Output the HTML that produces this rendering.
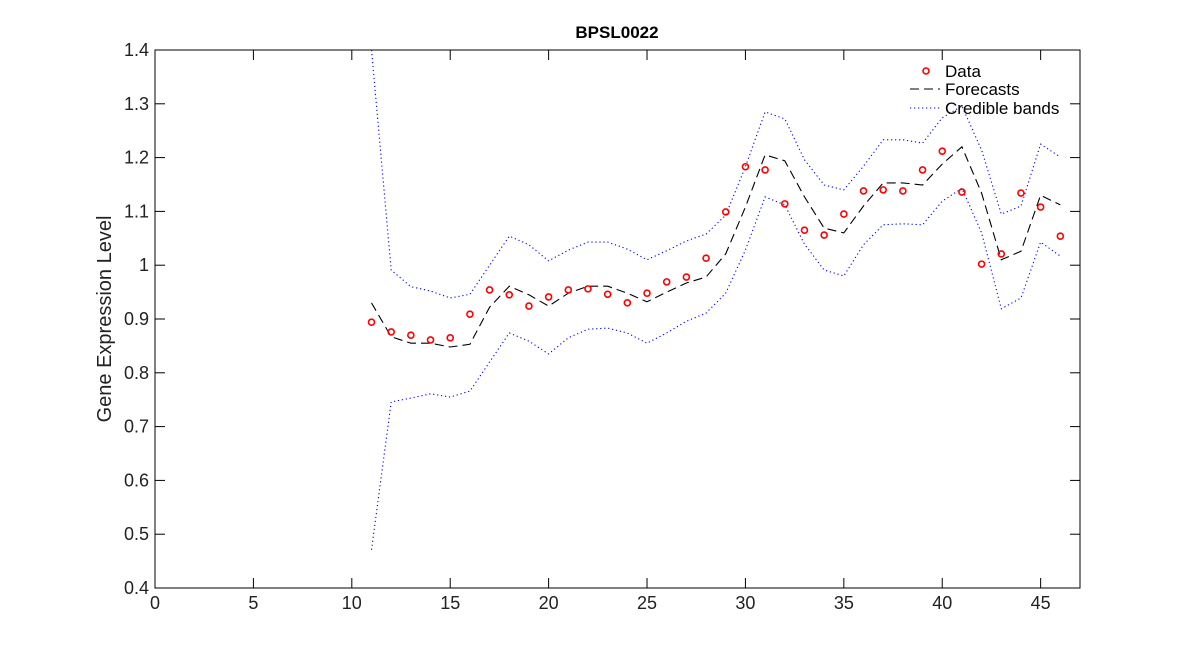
<!DOCTYPE html>
<html><head><meta charset="utf-8"><style>body{margin:0;background:#fff}svg{display:block;font-family:"Liberation Sans",sans-serif}</style></head>
<body>
<svg id="chart" width="1193" height="661">
<rect x="0" y="0" width="1193" height="661" fill="#fff"/>
<text x="617" y="38" text-anchor="middle" font-size="17" font-weight="bold">BPSL0022</text>
<text transform="translate(111,319) rotate(-90)" text-anchor="middle" font-size="20" fill="#222">Gene Expression Level</text>
<g id="axes"></g>
<g id="series"></g>
<g>
<circle cx="926" cy="71" r="3" fill="none" stroke="red" stroke-width="1.6"/>
<text x="945" y="77" font-size="17">Data</text>
<line x1="910" y1="89" x2="940" y2="89" stroke="#000" stroke-dasharray="9,5"/>
<text x="945" y="95" font-size="17">Forecasts</text>
<line x1="910" y1="108" x2="940" y2="108" stroke="blue" stroke-dasharray="1.2,2.8"/>
<text x="945" y="114" font-size="17">Credible bands</text>
</g>
</svg>
<script>
const xs = [11,12,13,14,15,16,17,18,19,20,21,22,23,24,25,26,27,28,29,30,31,32,33,34,35,36,37,38,39,40,41,42,43,44,45,46];
const dataVals = [0.894,0.876,0.870,0.861,0.865,0.909,0.954,0.945,0.924,0.941,0.954,0.956,0.946,0.930,0.948,0.969,0.978,1.013,1.099,1.183,1.177,1.114,1.065,1.056,1.095,1.138,1.140,1.138,1.177,1.212,1.136,1.002,1.021,1.134,1.108,1.054];
const forecastVals = [0.930,0.867,0.855,0.855,0.848,0.853,0.922,0.961,0.945,0.924,0.948,0.961,0.961,0.948,0.932,0.950,0.967,0.978,1.021,1.108,1.205,1.194,1.127,1.069,1.060,1.110,1.153,1.153,1.149,1.188,1.220,1.134,1.010,1.026,1.130,1.112];
const upperVals = [1.400,0.991,0.960,0.952,0.939,0.946,1.000,1.054,1.038,1.008,1.028,1.043,1.043,1.030,1.010,1.027,1.045,1.058,1.093,1.183,1.285,1.272,1.196,1.149,1.140,1.184,1.233,1.233,1.227,1.274,1.296,1.214,1.095,1.110,1.225,1.201];
const lowerVals = [0.471,0.746,0.753,0.761,0.755,0.766,0.820,0.874,0.859,0.835,0.865,0.881,0.883,0.874,0.855,0.874,0.896,0.911,0.948,1.028,1.127,1.112,1.039,0.991,0.980,1.038,1.075,1.077,1.075,1.119,1.143,1.060,0.919,0.939,1.043,1.017];
const xTicks = [0,5,10,15,20,25,30,35,40,45];
const yTicks = [0.4,0.5,0.6,0.7,0.8,0.9,1,1.1,1.2,1.3,1.4];
const L=155,R=1080,T=50,B=588,XMAX=47,YMIN=0.4,YMAX=1.4;
const sx=v=>L+(v/XMAX)*(R-L);
const sy=v=>B-(v-YMIN)/(YMAX-YMIN)*(B-T);
const NS='http://www.w3.org/2000/svg';
function mk(tag,attrs,parent){const e=document.createElementNS(NS,tag);for(const k in attrs)e.setAttribute(k,attrs[k]);parent.appendChild(e);return e;}
const ax=document.getElementById('axes'), se=document.getElementById('series');
const frame=mk('rect',{x:L,y:T,width:R-L,height:B-T,fill:'none',stroke:'#000','stroke-width':1},ax);


xTicks.forEach(t=>{const x=sx(t);
 mk('line',{x1:x,y1:B,x2:x,y2:B-10,stroke:'#000'},ax);
 mk('line',{x1:x,y1:T,x2:x,y2:T+10,stroke:'#000'},ax);
 const tx=mk('text',{x:x,y:B+21,'text-anchor':'middle','font-size':18,fill:'#222'},ax);tx.textContent=t;
 
 });
yTicks.forEach(t=>{const y=sy(t);
 mk('line',{x1:L,y1:y,x2:L+10,y2:y,stroke:'#000'},ax);
 mk('line',{x1:R,y1:y,x2:R-10,y2:y,stroke:'#000'},ax);
 const tx=mk('text',{x:149,y:y+6,'text-anchor':'end','font-size':18,fill:'#222'},ax);tx.textContent=(t===1?'1':t.toFixed(1));
 
 });
function line(vals,stroke,dash,name){const d=vals.map((v,i)=>(i?'L':'M')+sx(xs[i]).toFixed(1)+','+sy(v).toFixed(1)).join('');
 const p=mk('path',{d:d,fill:'none',stroke:stroke,'stroke-width':1.1,'stroke-dasharray':dash},se);
 
 }
line(upperVals,'blue','1.2,2.8','upper-credible-band');
line(lowerVals,'blue','1.2,2.8','lower-credible-band');
line(forecastVals,'#000','9,5','forecast-line');
dataVals.forEach((v,i)=>{const c=mk('circle',{cx:sx(xs[i]),cy:sy(v),r:3,fill:'none',stroke:'red','stroke-width':1.6},se);
 
 });
</script>
</body></html>
